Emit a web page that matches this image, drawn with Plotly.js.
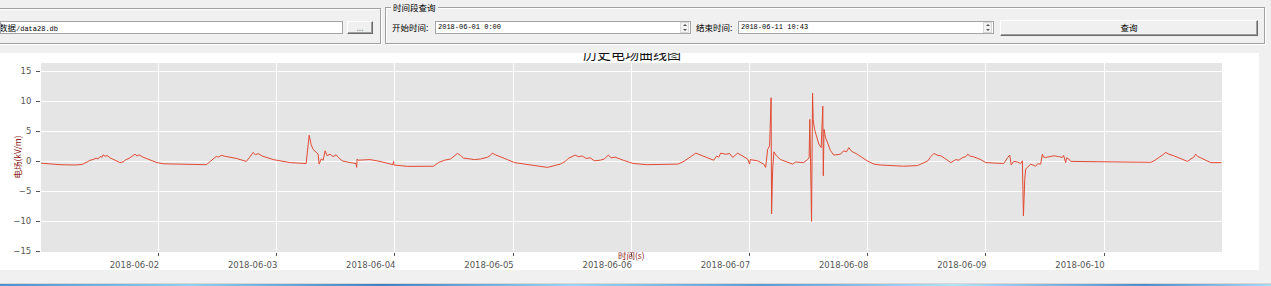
<!DOCTYPE html>
<html>
<head>
<meta charset="utf-8">
<script src="https://cdn.plot.ly/plotly-3.0.1.min.js"></script>
<style>
html,body{margin:0;padding:0;width:1271px;height:286px;overflow:hidden;background:#f0f0f0;font-family:"Noto Sans CJK SC",sans-serif;}
#header{position:absolute;left:0;top:0;width:1271px;height:53px;background:#f0f0f0;z-index:5;}
#chart{position:absolute;left:0;top:40px;width:1259px;height:230px;}
.group{position:absolute;border:1px solid #a0a0a0;box-shadow:inset 1px 1px 0 #fff,1px 1px 0 #fff;}
.gtitle{position:absolute;background:#f0f0f0;font-size:8.5px;line-height:10px;padding:0 2px;color:#000;}
.input{position:absolute;background:#fff;border:1px solid #a5a5a5;box-sizing:border-box;font-family:"Liberation Mono",monospace;font-size:7px;line-height:11px;color:#000;padding-left:2px;white-space:nowrap;overflow:hidden;}
.cjk{font-family:"Noto Sans CJK SC",sans-serif;font-size:8.5px;}
.label{position:absolute;font-size:8.5px;line-height:12px;color:#000;white-space:nowrap;}
.btn{position:absolute;box-sizing:border-box;background:#f0f0f0;border-top:1px solid #fff;border-left:1px solid #fff;border-right:1px solid #696969;border-bottom:1px solid #696969;box-shadow:inset -1px -1px 0 #a0a0a0;text-align:center;font-size:8.5px;color:#000;}
.spin{position:absolute;width:9px;height:11px;box-sizing:border-box;border:1px solid #d8d8d8;background:#f4f4f4;}
.spin:before{content:"";position:absolute;left:2px;top:1px;border-left:2px solid transparent;border-right:2px solid transparent;border-bottom:2px solid #555;}
.spin:after{content:"";position:absolute;left:2px;top:6px;border-left:2px solid transparent;border-right:2px solid transparent;border-top:2px solid #555;}
#taskbar{position:absolute;left:0;top:283px;width:1271px;height:3px;background:linear-gradient(90deg,#4a90d0 0%,#8fd0ee 15%,#3f7fc4 30%,#9ad4f0 45%,#5a9ad6 60%,#b5e0f5 75%,#4d8ccc 90%,#a9d8f2 100%);border-top:1px solid #d6d6d6;}
</style>
</head>
<body>
<div id="chart"></div>
<div id="header">
  <div class="group" style="left:-6px;top:8px;width:385px;height:34px;"></div>
  <div class="input cjk" style="left:0;top:21px;width:343px;height:13px;text-indent:-4px;">数据<span style="font-family:'Liberation Mono',monospace;font-size:7px;">/data28.db</span></div>
  <div class="btn" style="left:347px;top:21px;width:26px;height:13px;line-height:10px;color:#888;">...</div>

  <div class="group" style="left:385px;top:7px;width:878px;height:35px;"></div>
  <div class="gtitle" style="left:391px;top:2px;">时间段查询</div>
  <div class="label" style="left:392px;top:21px;">开始时间:</div>
  <div class="input" style="left:435px;top:21px;width:256px;height:13px;">2018-06-01 0:00</div>
  <div class="spin" style="left:680px;top:22px;"></div>
  <div class="label" style="left:696px;top:21px;">结束时间:</div>
  <div class="input" style="left:738px;top:21px;width:256px;height:13px;">2018-06-11 10:43</div>
  <div class="spin" style="left:983px;top:22px;"></div>
  <div class="btn" style="left:1000px;top:20px;width:258px;height:16px;line-height:13px;">查询</div>
</div>
<div id="taskbar"></div>
<script>
// Electric field history (kV/m)
var times = [
"2018-06-01 00:10","2018-06-01 02:02","2018-06-01 04:03","2018-06-01 07:05","2018-06-01 08:31","2018-06-01 09:32",
"2018-06-01 10:08","2018-06-01 10:44","2018-06-01 11:21","2018-06-01 11:45","2018-06-01 12:10","2018-06-01 12:34",
"2018-06-01 12:46","2018-06-01 13:11","2018-06-01 13:35","2018-06-01 14:11","2018-06-01 15:12","2018-06-01 16:13",
"2018-06-01 16:49","2018-06-01 17:26","2018-06-01 18:02","2018-06-01 18:39","2018-06-01 19:03","2018-06-01 19:15",
"2018-06-01 19:40","2018-06-01 20:04","2018-06-01 20:53","2018-06-01 22:18","2018-06-01 23:43",
"2018-06-02 01:01","2018-06-02 04:28","2018-06-02 09:44","2018-06-02 10:33","2018-06-02 11:09","2018-06-02 11:46",
"2018-06-02 12:10","2018-06-02 12:46","2018-06-02 13:35","2018-06-02 14:36","2018-06-02 15:49","2018-06-02 17:02",
"2018-06-02 17:50","2018-06-02 18:27","2018-06-02 18:51","2018-06-02 19:15","2018-06-02 19:40","2018-06-02 20:16",
"2018-06-02 21:05","2018-06-02 23:19",
"2018-06-03 02:46","2018-06-03 06:00","2018-06-03 06:37","2018-06-03 07:01","2018-06-03 07:25","2018-06-03 08:02",
"2018-06-03 08:26","2018-06-03 08:38","2018-06-03 09:03","2018-06-03 09:27","2018-06-03 09:51","2018-06-03 10:16",
"2018-06-03 10:52","2018-06-03 11:28","2018-06-03 12:05","2018-06-03 12:29","2018-06-03 13:18","2018-06-03 14:55",
"2018-06-03 16:08","2018-06-03 16:15","2018-06-03 16:21","2018-06-03 16:33","2018-06-03 18:58","2018-06-03 21:00",
"2018-06-03 23:38","2018-06-03 23:44","2018-06-03 23:50",
"2018-06-04 02:35","2018-06-04 07:52","2018-06-04 08:52","2018-06-04 10:05","2018-06-04 11:19","2018-06-04 12:07",
"2018-06-04 12:44","2018-06-04 13:20","2018-06-04 13:56","2018-06-04 15:22","2018-06-04 16:10","2018-06-04 17:23",
"2018-06-04 18:12","2018-06-04 18:49","2018-06-04 19:25","2018-06-04 19:49","2018-06-04 20:26","2018-06-04 21:26",
"2018-06-04 22:52",
"2018-06-05 00:17","2018-06-05 02:55","2018-06-05 06:58","2018-06-05 09:36","2018-06-05 10:37","2018-06-05 11:13",
"2018-06-05 11:38","2018-06-05 12:14","2018-06-05 12:38","2018-06-05 13:15","2018-06-05 14:04","2018-06-05 14:52",
"2018-06-05 15:41","2018-06-05 16:30","2018-06-05 17:43","2018-06-05 18:31","2018-06-05 19:20","2018-06-05 19:56",
"2018-06-05 20:45","2018-06-05 22:22",
"2018-06-06 00:24","2018-06-06 03:14","2018-06-06 09:27","2018-06-06 10:28","2018-06-06 11:29","2018-06-06 12:18",
"2018-06-06 13:06","2018-06-06 13:55","2018-06-06 14:43","2018-06-06 15:44","2018-06-06 16:45","2018-06-06 17:21",
"2018-06-06 17:46","2018-06-06 18:10","2018-06-06 19:11","2018-06-06 20:00","2018-06-06 20:36","2018-06-06 21:37",
"2018-06-06 22:25","2018-06-06 23:38",
"2018-06-07 00:03","2018-06-07 00:09","2018-06-07 01:40","2018-06-07 02:53","2018-06-07 03:18","2018-06-07 03:42",
"2018-06-07 04:06","2018-06-07 04:24","2018-06-07 04:30","2018-06-07 04:43","2018-06-07 04:58","2018-06-07 05:31",
"2018-06-07 06:20","2018-06-07 08:46","2018-06-07 09:22","2018-06-07 11:00","2018-06-07 11:48","2018-06-07 12:07",
"2018-06-07 12:16","2018-06-07 12:28","2018-06-07 12:37","2018-06-07 12:49","2018-06-07 12:57","2018-06-07 13:13",
"2018-06-07 13:37","2018-06-07 14:06","2018-06-07 14:34","2018-06-07 14:54","2018-06-07 15:00","2018-06-07 15:09",
"2018-06-07 15:27","2018-06-07 15:55","2018-06-07 16:28","2018-06-07 17:08","2018-06-07 18:30","2018-06-07 19:06",
"2018-06-07 19:43","2018-06-07 20:11","2018-06-07 20:43","2018-06-07 21:53","2018-06-07 23:54",
"2018-06-08 01:15","2018-06-08 02:36","2018-06-08 07:16","2018-06-08 10:06","2018-06-08 10:49","2018-06-08 12:13",
"2018-06-08 12:50","2018-06-08 13:27","2018-06-08 14:15","2018-06-08 14:52","2018-06-08 15:52","2018-06-08 16:54",
"2018-06-08 17:54","2018-06-08 18:31","2018-06-08 19:19","2018-06-08 19:56","2018-06-08 20:20","2018-06-08 20:45",
"2018-06-08 21:33","2018-06-08 22:58","2018-06-08 23:59",
"2018-06-09 03:38","2018-06-09 04:27","2018-06-09 04:51","2018-06-09 05:09","2018-06-09 05:40","2018-06-09 06:25",
"2018-06-09 07:05","2018-06-09 07:25","2018-06-09 07:38","2018-06-09 07:54","2018-06-09 08:06","2018-06-09 09:06",
"2018-06-09 10:07","2018-06-09 10:31","2018-06-09 11:08","2018-06-09 11:29","2018-06-09 11:44","2018-06-09 12:09",
"2018-06-09 13:10","2018-06-09 13:50","2018-06-09 14:47","2018-06-09 15:32","2018-06-09 15:48","2018-06-09 16:12",
"2018-06-09 16:24","2018-06-09 16:52","2018-06-09 17:13","2018-06-09 23:22",
"2018-06-10 05:26","2018-06-10 09:30","2018-06-10 10:10","2018-06-10 11:07","2018-06-10 11:56","2018-06-10 12:32",
"2018-06-10 13:09","2018-06-10 14:10","2018-06-10 15:35","2018-06-10 16:56","2018-06-10 17:37","2018-06-10 18:13",
"2018-06-10 18:37","2018-06-10 19:02","2018-06-10 19:38","2018-06-10 20:26","2018-06-10 21:40","2018-06-10 23:50"
];
var efield = [
-0.3,-0.45,-0.55,-0.6,-0.5,-0.1,
0.2,0.3,0.55,0.4,0.8,0.7,
1.1,0.85,1.0,0.6,0.2,-0.2,
-0.1,0.3,0.5,0.8,1.0,1.2,
0.9,1.1,0.7,0.25,-0.2,
-0.4,-0.5,-0.55,0.0,0.5,0.85,
0.7,1.0,0.85,0.7,0.5,0.2,
0.0,0.6,1.1,1.5,1.1,1.3,
0.9,0.3,
-0.2,-0.35,4.35,2.8,2.0,1.5,
1.2,-0.45,0.4,0.2,1.76,0.95,
1.2,0.8,1.1,0.7,0.1,-0.2,
-0.35,-1.0,0.4,0.2,0.3,0.0,
-0.55,0.0,-0.6,
-0.83,-0.8,-0.2,0.2,0.4,0.9,
1.33,1.0,0.55,0.4,0.3,0.4,
0.5,0.7,1.0,1.38,1.1,0.8,
0.3,
-0.2,-0.55,-1.0,-0.45,0.0,0.5,
0.66,0.8,1.05,0.8,0.9,0.5,
0.6,0.1,0.2,0.4,1.05,0.6,
0.7,0.2,
-0.35,-0.55,-0.45,-0.1,0.4,0.9,
1.38,1.1,0.94,0.5,0.2,0.9,
0.7,1.38,1.2,1.3,0.66,1.38,
1.0,0.4,
-0.45,0.3,0.1,-0.45,-1.0,2.0,
2.57,10.6,-8.75,-1.4,1.6,0.9,
0.3,-0.45,-0.1,-0.2,0.3,0.66,
7.0,-7.4,-10.0,11.4,7.0,5.35,
4.0,2.87,2.3,9.2,-2.4,5.35,
4.0,2.87,1.8,1.05,1.2,1.76,
1.6,2.3,1.7,1.2,0.1,
-0.45,-0.6,-0.8,-0.7,-0.45,0.1,
0.8,1.33,1.0,0.94,0.4,-0.2,
0.3,0.2,0.66,0.8,1.2,0.9,
0.75,0.3,-0.2,
-0.35,0.66,1.05,-0.6,0.0,-0.1,
-0.35,0.1,-9.1,-3.0,-1.27,-0.45,
-0.8,-0.4,-0.45,1.2,0.7,0.66,
0.8,0.94,0.8,0.66,1.0,-0.2,
0.6,0.4,0.0,-0.05,
0.0,-0.15,0.1,0.6,1.1,1.5,
1.2,0.94,0.5,0.0,0.4,0.7,
1.2,0.8,0.6,0.3,-0.2,-0.2
];
var yTicks = [-15,-10,-5,0,5,10,15];
var chartTitle = "历史电场曲线图";
var xTitle = "时间(s)";
var yTitle = "电场(kV/m)";

var trace = {
  x: times, y: efield, type: "scatter", mode: "lines",
  line: {color: "#E24A33", width: 1}, hoverinfo: "skip"
};
var tickFont = {family: "DejaVu Sans", size: 8.5, color: "#555555"};
var layout = {
  width: 1259, height: 230,
  margin: {l: 41, r: 37, t: 23, b: 18, pad: 0},
  paper_bgcolor: "#ffffff", plot_bgcolor: "#E5E5E5",
  showlegend: false,
  xaxis: {
    type: "date",
    range: ["2018-06-01 00:10", "2018-06-10 23:57"],
    tick0: "2018-06-02", dtick: 86400000, tickformat: "%Y-%m-%d",
    ticks: "outside", ticklen: 3, tickwidth: 1, tickcolor: "#555555",
    showgrid: true, gridcolor: "#ffffff", gridwidth: 1,
    zeroline: false, showline: false,
    tickfont: tickFont, ticklabelshift: -24, ticklabelstandoff: 2,
    fixedrange: true
  },
  yaxis: {
    range: [-15.1, 16.4], tickmode: "array", tickvals: yTicks,
    ticks: "outside", ticklen: 4, tickwidth: 1, tickcolor: "#555555",
    showgrid: true, gridcolor: "#ffffff", gridwidth: 1,
    zeroline: false, showline: false,
    tickfont: tickFont, ticklabelstandoff: 3,
    fixedrange: true
  },
  annotations: [
    {text: chartTitle, xref: "paper", yref: "paper", x: 0.5, y: 1, xanchor: "center", yanchor: "middle",
     yshift: 10, showarrow: false, font: {family: "Noto Sans CJK SC", size: 14, color: "#111111"}},
    {text: xTitle, xref: "paper", yref: "paper", x: 0.5, y: 0, xanchor: "center", yanchor: "middle",
     yshift: -3, showarrow: false, font: {family: "Noto Sans CJK SC", size: 8.5, color: "#8B1A1A"}},
    {text: yTitle, xref: "paper", yref: "paper", x: 0, y: 0.5, xanchor: "center", yanchor: "middle",
     xshift: -25, textangle: -90, showarrow: false, font: {family: "Noto Sans CJK SC", size: 8.5, color: "#8B1A1A"}}
  ]
};
Plotly.newPlot("chart", [trace], layout, {displayModeBar: false, staticPlot: true});
</script>
</body>
</html>
